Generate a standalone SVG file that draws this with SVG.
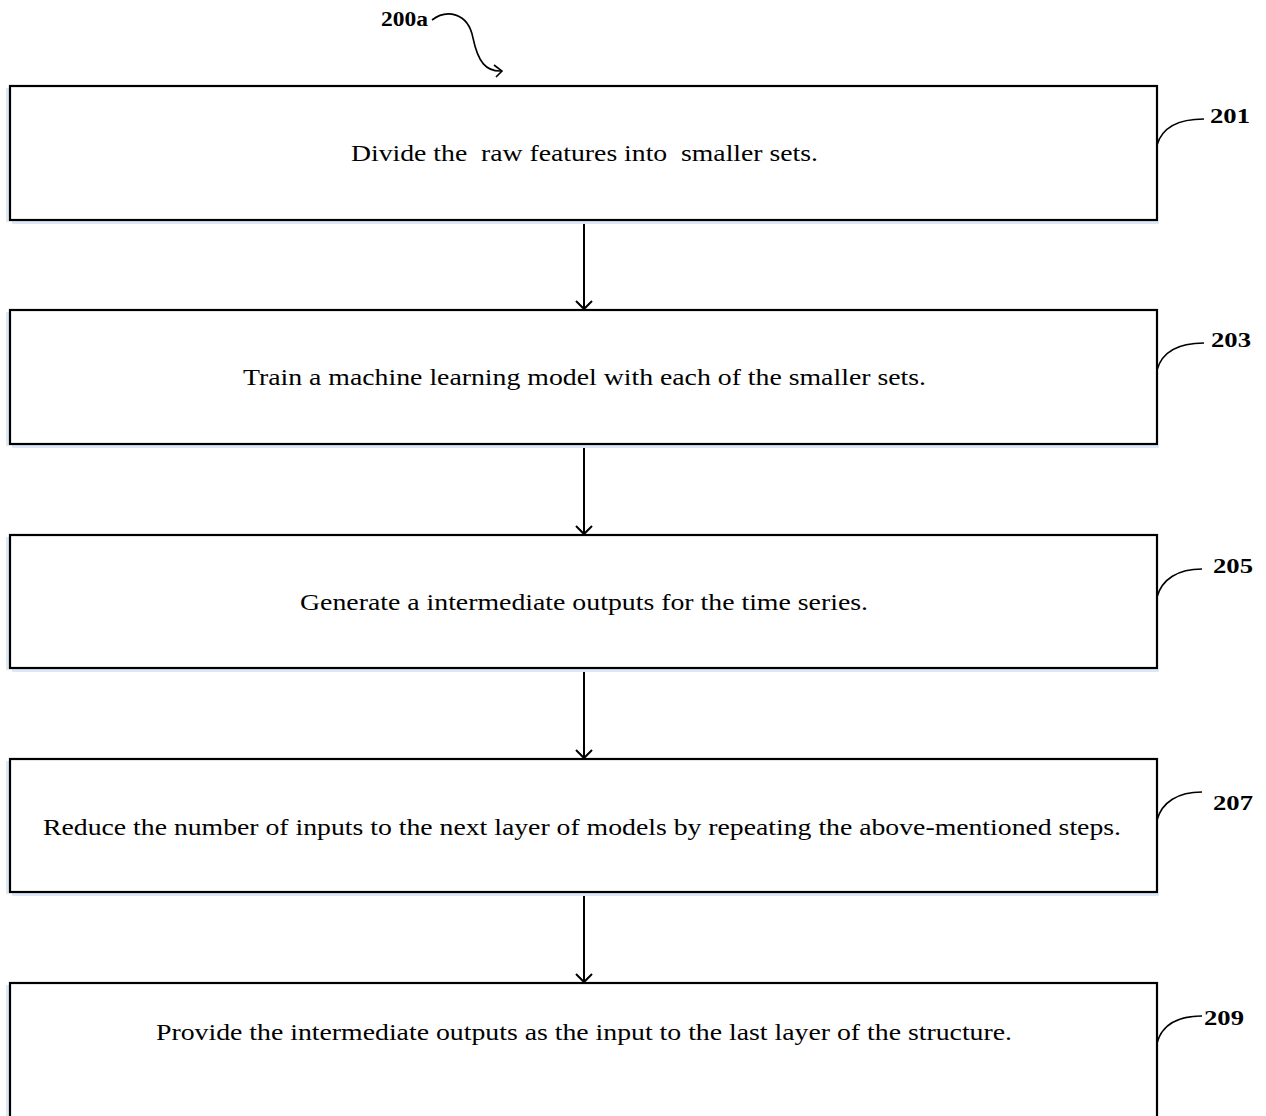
<svg xmlns="http://www.w3.org/2000/svg" width="1266" height="1116" viewBox="0 0 1266 1116">
<style>
.box{fill:#ffffff;stroke:#000;stroke-width:2.2}
.shadow{fill:none;stroke:#dce8f5;stroke-width:3}
.t{font-family:"Liberation Serif","Times New Roman",serif;font-size:24px;fill:#000;white-space:pre}
.lbl{font-family:"Liberation Serif","Times New Roman",serif;font-size:22px;font-weight:bold;fill:#000}
.c{fill:none;stroke:#000;stroke-width:1.6}
.a{fill:none;stroke:#000;stroke-width:2}
</style>
<rect width="1266" height="1116" fill="#ffffff"/>
<g id="title">
<text class="lbl" x="381" y="26" textLength="47" lengthAdjust="spacingAndGlyphs">200a</text>
<path class="c" d="M432,20 C446,9 468,12 473,38 C478,62 486,72 502,71"/>
<path class="c" d="M494,65 L502,71 L496,77"/>
</g>
<g id="connectors">
<line class="a" x1="584" y1="221" x2="584" y2="309"/>
<path class="a" d="M576,301 L584,309 L592,301"/>
<line class="a" x1="584" y1="445" x2="584" y2="534"/>
<path class="a" d="M576,526 L584,534 L592,526"/>
<line class="a" x1="584" y1="669" x2="584" y2="758"/>
<path class="a" d="M576,750 L584,758 L592,750"/>
<line class="a" x1="584" y1="893" x2="584" y2="982"/>
<path class="a" d="M576,974 L584,982 L592,974"/>
</g>
<g id="n201">
<line class="shadow" x1="12" y1="222.5" x2="1159" y2="222.5"/>
<line class="shadow" x1="7.5" y1="88" x2="7.5" y2="222"/>
<rect class="box" x="10" y="86" width="1147" height="134"/>
<text class="t" x="351" y="161" textLength="467" lengthAdjust="spacingAndGlyphs">Divide the  raw features into  smaller sets.</text>
<path class="c" d="M1157,145 C1162,128 1178,119 1204,119"/>
<text class="lbl" x="1210" y="123" textLength="40" lengthAdjust="spacingAndGlyphs">201</text>
</g>
<g id="n203">
<line class="shadow" x1="12" y1="446.5" x2="1159" y2="446.5"/>
<line class="shadow" x1="7.5" y1="312" x2="7.5" y2="446"/>
<rect class="box" x="10" y="310" width="1147" height="134"/>
<text class="t" x="243" y="385" textLength="683" lengthAdjust="spacingAndGlyphs">Train a machine learning model with each of the smaller sets.</text>
<path class="c" d="M1157,370 C1162,352 1178,343 1204,343"/>
<text class="lbl" x="1211" y="347" textLength="40" lengthAdjust="spacingAndGlyphs">203</text>
</g>
<g id="n205">
<line class="shadow" x1="12" y1="670.5" x2="1159" y2="670.5"/>
<line class="shadow" x1="7.5" y1="537" x2="7.5" y2="670"/>
<rect class="box" x="10" y="535" width="1147" height="133"/>
<text class="t" x="300" y="610" textLength="568" lengthAdjust="spacingAndGlyphs">Generate a intermediate outputs for the time series.</text>
<path class="c" d="M1157,597 C1162,579 1178,569 1202,569"/>
<text class="lbl" x="1213" y="573" textLength="40" lengthAdjust="spacingAndGlyphs">205</text>
</g>
<g id="n207">
<line class="shadow" x1="12" y1="894.5" x2="1159" y2="894.5"/>
<line class="shadow" x1="7.5" y1="761" x2="7.5" y2="894"/>
<rect class="box" x="10" y="759" width="1147" height="133"/>
<text class="t" x="43" y="835" textLength="1078" lengthAdjust="spacingAndGlyphs">Reduce the number of inputs to the next layer of models by repeating the above-mentioned steps.</text>
<path class="c" d="M1157,820 C1162,802 1178,792 1202,792"/>
<text class="lbl" x="1213" y="810" textLength="40" lengthAdjust="spacingAndGlyphs">207</text>
</g>
<g id="n209">
<line class="shadow" x1="7.5" y1="985" x2="7.5" y2="1116"/>
<rect class="box" x="10" y="983" width="1147" height="150"/>
<text class="t" x="156" y="1040" textLength="856" lengthAdjust="spacingAndGlyphs">Provide the intermediate outputs as the input to the last layer of the structure.</text>
<path class="c" d="M1157,1043 C1162,1025 1178,1016 1202,1016"/>
<text class="lbl" x="1204" y="1025" textLength="40" lengthAdjust="spacingAndGlyphs">209</text>
</g>
</svg>
